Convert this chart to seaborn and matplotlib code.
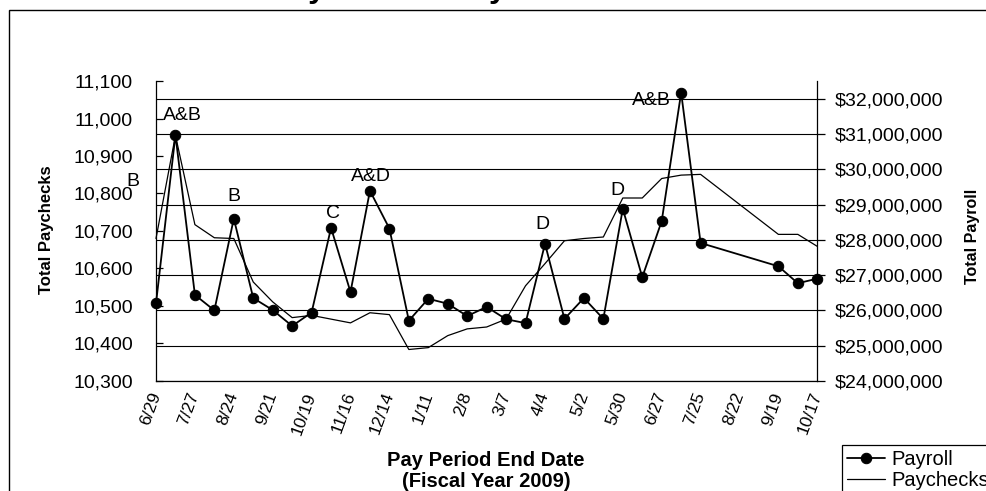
import matplotlib
matplotlib.use("Agg")
import matplotlib.pyplot as plt
import matplotlib.dates as mdates
from matplotlib.patches import Rectangle
from matplotlib.ticker import FuncFormatter
import numpy as np
import pandas as pd
import seaborn as sns

# Pay period end dates (biweekly, with a gap in late summer)
pay_dates = [
    "2007-06-29", "2007-07-13", "2007-07-27", "2007-08-10", "2007-08-24",
    "2007-09-07", "2007-09-21", "2007-10-05", "2007-10-19", "2007-11-02",
    "2007-11-16", "2007-11-30", "2007-12-14", "2007-12-28", "2008-01-11",
    "2008-01-25", "2008-02-08", "2008-02-22", "2008-03-07", "2008-03-21",
    "2008-04-04", "2008-04-18", "2008-05-02", "2008-05-16", "2008-05-30",
    "2008-06-13", "2008-06-27", "2008-07-11", "2008-07-25", "2008-09-19",
    "2008-10-03", "2008-10-17",
]

# Total payroll per pay period (dollars)
payroll = [
    26_200_000, 30_970_000, 26_440_000, 26_000_000, 28_600_000,
    26_350_000, 26_010_000, 25_560_000, 25_940_000, 28_340_000,
    26_520_000, 29_390_000, 28_320_000, 25_710_000, 26_330_000,
    26_190_000, 25_840_000, 26_100_000, 25_750_000, 25_640_000,
    27_890_000, 25_760_000, 26_350_000, 25_760_000, 28_880_000,
    26_940_000, 28_530_000, 32_170_000, 27_910_000, 27_250_000,
    26_770_000, 26_900_000,
]

# Total paychecks issued per pay period
paychecks = [
    10680, 10955, 10717, 10682, 10680,
    10564, 10511, 10469, 10475, 10465,
    10455, 10482, 10477, 10384, 10389,
    10421, 10439, 10444, 10465, 10554,
    10613, 10674, 10680, 10684, 10788,
    10788, 10840, 10849, 10851, 10691,
    10691, 10659,
]

# Axis extents and tick values
date_start = "2007-06-29"
date_end = "2008-10-17"
paycheck_ticks = list(range(10300, 11101, 100))
payroll_ticks = list(range(24_000_000, 32_000_001, 1_000_000))
payroll_top = 32_500_000

# Notes on selected pay periods
note_dates = ["2007-06-29", "2007-07-13", "2007-08-24", "2007-11-02",
              "2007-11-30", "2008-04-04", "2008-05-30", "2008-07-11"]
note_texts = ["B", "A&B", "B", "C", "A&D", "D", "D", "A&B"]

# Placement of each note relative to its payroll point (points)
note_offsets = [(-16.8, 87.6), (4.8, 13.7), (0, 15.8), (1.2, 10.4),
                (0.5, 10.6), (-1.7, 14.0), (-3.6, 13.5), (-21.6, -5.3)]

sns.set_theme(style="white", rc={
    "axes.edgecolor": "black", "text.color": "black",
    "axes.labelcolor": "black", "xtick.color": "black",
    "ytick.color": "black",
})
plt.rcParams["font.family"] = ["Liberation Sans", "DejaVu Sans"]

df = pd.DataFrame({
    "date": pd.to_datetime(pay_dates),
    "payroll": payroll,
    "paychecks": paychecks,
})

W, H = 986, 491
fig = plt.figure(figsize=(W / 100, H / 100), dpi=100)
fig.patch.set_facecolor("white")
fig.subplots_adjust(left=156 / W, right=817.3 / W, bottom=1 - 381 / H, top=1 - 81 / H)
ax = fig.add_subplot(111)
ax2 = ax.twinx()

sns.lineplot(data=df, x="date", y="paychecks", ax=ax, color="black",
             linewidth=0.9, estimator=None, legend=False)
sns.lineplot(data=df, x="date", y="payroll", ax=ax2, color="black",
             linewidth=1.3, marker="o", markersize=7.5,
             markeredgecolor="black", markerfacecolor="black",
             estimator=None, legend=False)
for ln in ax.lines + ax2.lines:
    ln.set_clip_on(False)

# Axis ranges and ticks
ax.set_xlim(pd.Timestamp(date_start), pd.Timestamp(date_end))
ax.set_ylim(paycheck_ticks[0], paycheck_ticks[-1])
ax2.set_ylim(payroll_ticks[0], payroll_top)
ax.set_xticks(pd.date_range(date_start, date_end, freq="28D"))
ax.xaxis.set_major_formatter(mdates.DateFormatter("%-m/%-d"))
ax.set_yticks(paycheck_ticks)
ax.yaxis.set_major_formatter(FuncFormatter(lambda v, _: f"{v:,.0f}"))
ax2.set_yticks(payroll_ticks)
ax2.yaxis.set_major_formatter(FuncFormatter(lambda v, _: f"${v:,.0f}"))

ax.tick_params(axis="y", direction="in", length=5, width=0.9, pad=16.6, labelsize=14)
ax.tick_params(axis="x", direction="inout", length=8.6, width=0.9, pad=4.3, labelsize=12.5)
ax2.tick_params(axis="y", direction="out", length=5.5, width=0.9, pad=7.2, labelsize=14)
plt.setp(ax.get_xticklabels(), rotation=70, ha="right", va="center",
         rotation_mode="anchor")

# Gridlines follow the payroll scale
ax2.yaxis.grid(True, color="black", linewidth=0.8)
ax.grid(False)

for side in ("top", "right"):
    ax.spines[side].set_visible(False)
for side in ("top", "left", "bottom"):
    ax2.spines[side].set_visible(False)
for sp in list(ax.spines.values()) + list(ax2.spines.values()):
    sp.set_linewidth(0.9)

# Axis titles
ax.set_xlabel("Pay Period End Date\n(Fiscal Year 2009)", fontsize=14.5,
              fontweight="bold", linespacing=1.15, va="top")
ax.xaxis.set_label_coords(0.499, -0.233)
ax.set_ylabel("Total Paychecks", fontsize=12, fontweight="bold", va="center")
ax.yaxis.set_label_coords(-0.166, 0.503)
ax2.set_ylabel("Total Payroll", fontsize=11.5, fontweight="bold", va="center",
               rotation=90)
ax2.yaxis.set_label_coords(1.234, 0.483)

# Notes above the payroll markers
note_lookup = dict(zip(df["date"], df["payroll"]))
for d, txt, (dx, dy) in zip(note_dates, note_texts, note_offsets):
    ts = pd.Timestamp(d)
    ax2.annotate(txt, xy=(ts, note_lookup[ts]), xytext=(dx, dy),
                 textcoords="offset points", ha="center", va="center",
                 fontsize=14, annotation_clip=False)

# Legend
handles = [ax2.lines[0], ax.lines[0]]
leg = fig.legend(handles, ["Payroll", "Paychecks"], loc="upper left",
                 bbox_to_anchor=(842 / W, 1 - 445 / H),
                 bbox_transform=fig.transFigure, frameon=True, fancybox=False,
                 edgecolor="black", framealpha=1, borderpad=0.25,
                 handlelength=1.9, handletextpad=0.3, labelspacing=0.1,
                 fontsize=14.5, borderaxespad=0)
leg.get_frame().set_linewidth(0.9)

# Chart title and outer frame
fig.text(269 / W, 1 + 3.4 / H, "Payroll and Paychecks Issued", fontsize=23,
         fontweight="bold", ha="left", va="baseline")
fig.add_artist(Rectangle((9 / W, -0.05), 1.0, 1 - 10.5 / H + 0.05,
                         transform=fig.transFigure, fill=False,
                         edgecolor="black", linewidth=1.0))

fig.savefig("out.png", dpi=100)
